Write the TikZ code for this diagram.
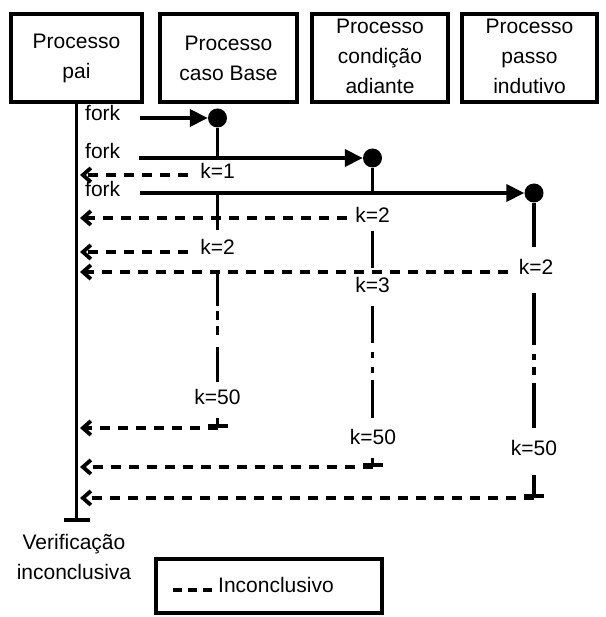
\documentclass[tikz,border=0pt]{standalone}
\usepackage{fontspec}
\setmainfont{Liberation Sans}
\usetikzlibrary{arrows.meta}
\begin{document}
\begin{tikzpicture}[x=1pt, y=1pt,
	every node/.style={inner sep=0pt, font=\fontsize{21}{30}\selectfont},
	proc/.style={draw, line width=3.8pt, minimum height=88pt, align=center},
	life/.style={line width=3.8pt},
	forkarrow/.style={line width=3.8pt, -{Triangle[length=18pt, width=17pt]}},
	ret/.style={line width=3.8pt, dash pattern=on 10pt off 8pt, -{Straight Barb[length=8pt, width=14pt]}},
	dot/.style={circle, fill, minimum size=19pt},
	endbar/.style={-{Bar[width=20pt]}}]
	\useasboundingbox (0,0) rectangle (605,-617);
	% processes
	\node[proc, minimum width=131pt] (pai) at (76.5,-58) {Processo\\pai};
	\node[proc, minimum width=137pt] (base) at (228.5,-58) {Processo\\caso Base};
	\node[proc, minimum width=136pt, text depth=3pt] (cond) at (380,-58) {Processo\\condição\\adiante};
	\node[proc, minimum width=135pt, text depth=3pt] (passo) at (529.5,-58) {Processo\\passo\\indutivo};
	% parent lifeline
	\coordinate (paiend) at (76.5,-522);
	\coordinate (paitip) at (80,0);
	\draw[life, -{Bar[width=26pt]}] (pai.south) -- (paiend);
	\node[align=center] (verif) at (74,-557) {Verificação\\inconclusiva};
	% forks
	\node[anchor=west] (fork1) at (85,-113) {fork};
	\node[anchor=west] (fork2) at (85,-151) {fork};
	\node[anchor=west] (fork3) at (85,-189) {fork};
	\coordinate (fk1) at (140,-118);
	\coordinate (fk2) at (139,-158);
	\coordinate (fk3) at (140,-193);
	\node[dot] (c1) at (217.5,-118) {};
	\node[dot] (c2) at (372.5,-158) {};
	\node[dot] (c3) at (534,-193) {};
	\draw[forkarrow] (fk1) -- (c1);
	\draw[forkarrow] (fk2) -- (c2);
	\draw[forkarrow] (fk3) -- (c3);
	% labels on lifelines
	\node (k1) at (217.5,-171) {k=1};
	\node (k2a) at (217.5,-247) {k=2};
	\node (k50a) at (217.5,-397) {k=50};
	\node (k2b) at (372.5,-215) {k=2};
	\node (k3b) at (372.5,-285) {k=3};
	\node (k50b) at (373,-437) {k=50};
	\node (k2c) at (536,-267) {k=2};
	\node (k50c) at (534,-448) {k=50};
	% caso base
	\coordinate (baseend) at (217.5,-428);
	\draw[life] (c1) -- (c1 |- fk2);
	\draw[life] (c1 |- fk3) -- (217.5,-230);
	\draw[life, dash pattern=on 34pt off 5pt on 9pt off 6pt on 9pt off 12pt on 35pt] (217.5,-272) -- (217.5,-382);
	\draw[life, endbar] (217.5,-418) -- (baseend);
	% condicao adiante
	\coordinate (condend) at (372.5,-467);
	\draw[life] (c2) -- (c2 |- fk3);
	\draw[life] (372.5,-231) -- (372.5,-268);
	\draw[life, dash pattern=on 37pt off 9pt on 6pt off 9pt on 6pt off 7pt on 38pt] (372.5,-306) -- (372.5,-418);
	\draw[life, endbar] (372.5,-458) -- (condend);
	% passo indutivo
	\coordinate (passoend) at (534,-498);
	\draw[life] (c3) -- (534,-247);
	\draw[life, dash pattern=on 52pt off 9pt on 6pt off 7pt on 8pt off 8pt on 45pt] (534,-293) -- (534,-428);
	\draw[life, endbar] (534,-475) -- (passoend);
	% returns
	\coordinate (r1) at (188,-175);
	\coordinate (r2) at (347,-218);
	\coordinate (r3) at (188,-252);
	\coordinate (r4) at (508,-272);
	\draw[ret] (r1) -- (r1 -| paitip);
	\draw[ret] (r2) -- (r2 -| paitip);
	\draw[ret] (r3) -- (r3 -| paitip);
	\draw[ret] (r4) -- (r4 -| paitip);
	\draw[ret] (baseend) -- (baseend -| paitip);
	\draw[ret] (condend) -- (condend -| paitip);
	\draw[ret] (passoend) -- (passoend -| paitip);
	% legend
	\node[draw, line width=3.8pt, minimum width=226pt, minimum height=54pt] (legend) at (269,-586) {};
	\draw[line width=3.8pt, dash pattern=on 9pt off 6pt] (173,-590) -- (212,-590);
	\node[anchor=west] (legtxt) at (218,-585) {Inconclusivo};
\end{tikzpicture}
\end{document}
